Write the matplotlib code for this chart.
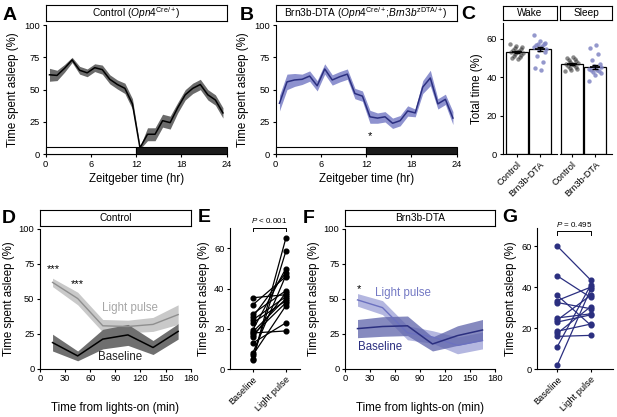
import numpy as np
import matplotlib
matplotlib.use('Agg')
import matplotlib.pyplot as plt
from matplotlib.patches import Rectangle

plt.rcParams['font.family'] = ['Liberation Sans', 'DejaVu Sans']
plt.rcParams['mathtext.fontset'] = 'custom'
plt.rcParams['mathtext.rm'] = 'Liberation Sans'
plt.rcParams['mathtext.it'] = 'Liberation Sans:italic'
plt.rcParams['axes.linewidth'] = 0.8
plt.rcParams['xtick.major.size'] = 2.5
plt.rcParams['ytick.major.size'] = 2.5
plt.rcParams['xtick.major.width'] = 0.8
plt.rcParams['ytick.major.width'] = 0.8
plt.rcParams['xtick.labelsize'] = 6.7
plt.rcParams['ytick.labelsize'] = 6.7
plt.rcParams['xtick.major.pad'] = 1.5
plt.rcParams['ytick.major.pad'] = 1.5

# ---------------- data ----------------
zt = np.arange(0.5, 24, 1.0)
ctrl_mean = [61.5, 61, 66.5, 73, 65, 63, 67, 65.5, 58, 54, 51, 39,
             5, 15.5, 15.5, 26, 24.5, 36, 46, 51, 54, 46, 42, 32]
ctrl_sem = [5, 4, 3, 2, 3, 3, 3, 3.5, 3.5, 3.5, 4, 4,
            1, 5, 5, 5, 5, 4, 4, 4, 4, 4, 4, 4]
dta_mean = [39.5, 56, 57.5, 58, 60.5, 53, 66, 57.5, 60, 62, 47, 45,
            29, 28, 29, 24, 26, 33.5, 32, 52, 59, 39, 42.5, 28]
dta_sem = [6, 6, 5, 4, 4, 4, 4, 4, 4, 4, 4, 4,
           5, 4, 4, 4, 4, 4, 3, 5, 6, 4, 4, 5]
lights_off = 12

c_groups = ['Control', 'Brn3b-DTA']
wake_ctrl = [57, 56, 55.5, 55, 54.5, 54, 53.5, 53, 53, 52.5, 52, 51.5, 51, 50.5, 50, 49.5]
wake_dta = [62, 59, 58, 57.5, 57, 56.5, 56, 55.5, 55, 54.5, 54, 53, 51, 48, 45, 43.5]
wake_mean = [53.2, 54.6]
wake_sem = [0.6, 1.2]
sleep_ctrl = [100 - v for v in wake_ctrl]
sleep_dta = [100 - v for v in wake_dta]
sleep_mean = [46.9, 45.4]
sleep_sem = [0.6, 1.2]

t_min = [15, 45, 75, 105, 135, 165]
d_lp = [61.5, 50, 30.5, 30, 31.5, 38.5]
d_lp_sem = [3, 4.5, 4.5, 4.5, 5, 7]
d_base = [18.5, 9, 21, 24, 15, 26.5]
d_base_sem = [6, 3.5, 7, 7.5, 5, 5.5]

f_lp = [49, 43.5, 25.5, 22.5, 16.5, 20]
f_lp_sem = [4.5, 5, 5, 4.5, 6, 6]
f_base = [28.5, 30, 30.5, 17.5, 23.5, 27.5]
f_base_sem = [6.5, 7, 7, 5, 7, 7.5]

pair_labels = ['Baseline', 'Light pulse']
e_base = [35.5, 32, 27.5, 26, 24.5, 23, 19.5, 18.5, 18, 17, 16, 13, 8, 7, 5, 4.5]
e_lp = [37, 46, 39, 48, 36, 34, 50, 35, 19, 33, 38, 23, 46.5, 31.5, 58.5, 65]
g_base = [60, 45.5, 36, 33.5, 32.5, 25, 24, 23, 18.5, 17.5, 16, 11, 2]
g_lp = [43.5, 35, 21.5, 40, 29.5, 27, 36, 26.5, 22, 30.5, 16.5, 41, 39]

NAVY = '#2b2f80'
LAV = '#8e92cf'

W, H = 617, 417
fig = plt.figure(figsize=(W / 100, H / 100), dpi=100)


def add_ax(l, t, r, b):
    return fig.add_axes([l / W, 1 - b / H, (r - l) / W, (b - t) / H])


def style(ax):
    ax.spines['top'].set_visible(False)
    ax.spines['right'].set_visible(False)


def title_box(l, t, r, b, text):
    ax = add_ax(l, t, r, b)
    ax.set_xticks([])
    ax.set_yticks([])
    ax.text(0.5, 0.47, text, ha='center', va='center', fontsize=7.3,
            transform=ax.transAxes)
    return ax


def letter(x, y, s):
    fig.text(x / W, 1 - y / H, s, fontsize=14, fontweight='bold', va='baseline')


LABFS = 8.3

# ---------------- A & B ----------------
for (l, r, mean, sem, lc, bc, ttl, let, lx) in [
        (45.7, 226.7, ctrl_mean, ctrl_sem, 'black', '#6b6b6b',
         r'Control ($\mathit{Opn4}^{\mathrm{Cre/+}}$)', 'A', 2.5),
        (275.7, 456.7, dta_mean, dta_sem, NAVY, LAV,
         r'Brn3b-DTA ($\mathit{Opn4}^{\mathrm{Cre/+}}$;$\mathit{Brn3b}^{\mathrm{zDTA/+}}$)', 'B', 240)]:
    ax = add_ax(l, 25, r, 154.3)
    style(ax)
    m = np.array(mean); s = np.array(sem)
    ax.fill_between(zt, m - s, m + s, color=bc, lw=0)
    ax.plot(zt, m, color=lc, lw=1.1)
    ax.add_patch(Rectangle((0, 0), lights_off, 5.3, fc='white', ec='black', lw=0.8, clip_on=False, zorder=3))
    ax.add_patch(Rectangle((lights_off, 0), 24 - lights_off, 5.3, fc='#1c1c1c', ec='black', lw=0.8, clip_on=False, zorder=3))
    ax.set_xlim(0, 24)
    ax.set_ylim(0, 100)
    ax.set_xticks([0, 6, 12, 18, 24])
    ax.set_yticks([0, 25, 50, 75, 100])
    ax.set_xlabel('Zeitgeber time (hr)', fontsize=LABFS, labelpad=3)
    ax.set_ylabel('Time spent asleep (%)', fontsize=LABFS, labelpad=4)
    title_box(l, 5, r, 20.7, ttl)
    letter(lx, 20, let)
    if let == 'B':
        ax.text(12.5, 14, '*', ha='center', va='center', fontsize=8)

# ---------------- C ----------------
letter(461.5, 19.3, 'C')


def jitter(n, w=0.55):
    k = (np.arange(n) * 7) % n
    return (k / max(n - 1, 1) - 0.5) * w


for (l, r, xl, means, sems, dots, ttl, first) in [
        (502.7, 556.7, (-0.6, 1.72), wake_mean, wake_sem, (wake_ctrl, wake_dta), 'Wake', True),
        (560.0, 612.3, (-0.5, 1.74), sleep_mean, sleep_sem, (sleep_ctrl, sleep_dta), 'Sleep', False)]:
    ax = add_ax(l, 23.3, r, 154.3)
    style(ax)
    xs = np.arange(len(c_groups))
    ax.bar(xs, means, width=0.94, fc='white', ec='black', lw=0.9, zorder=1)
    for i, (vals, col, a) in enumerate(zip(dots, ['#2a2a2a', '#8286c4'], [0.55, 0.85])):
        ax.scatter(xs[i] + jitter(len(vals)), vals, s=10, color=col, alpha=a, lw=0, zorder=2)
    ax.errorbar(xs, means, yerr=sems, fmt='none', ecolor='black', elinewidth=1.0, capsize=2.5, capthick=1.0, zorder=3)
    ax.hlines(means, xs - 0.22, xs + 0.22, color='black', lw=1.2, zorder=3)
    ax.set_xlim(*xl)
    ax.set_ylim(0, 68)
    ax.set_xticks(xs)
    ax.set_xticklabels(c_groups, rotation=45, ha='right', rotation_mode='anchor')
    if first:
        ax.set_yticks([0, 20, 40, 60])
        ax.set_ylabel('Total time (%)', fontsize=LABFS, labelpad=3)
    else:
        ax.spines['left'].set_visible(False)
        ax.set_yticks([])
    title_box(l, 5.7, r, 20, ttl)

# ---------------- D & F ----------------
for (l, r, lp, lps, bs, bss, lpc, lplc, bsc, bslc, ttl, let, lx, a_band) in [
        (40, 190.7, d_lp, d_lp_sem, d_base, d_base_sem, '#c9c9c9', '#8f8f8f', '#6f6f6f', 'black', 'Control', 'D', 1.5, 1.0),
        (345, 495, f_lp, f_lp_sem, f_base, f_base_sem, '#b4b7e0', '#6c71c0', '#5e63aa', NAVY, 'Brn3b-DTA', 'F', 303, 0.75)]:
    ax = add_ax(l, 228.5, r, 368.5)
    style(ax)
    t = np.array(t_min)
    a = np.array(lp); sa = np.array(lps)
    b = np.array(bs); sb = np.array(bss)
    ax.fill_between(t, a - sa, a + sa, color=lpc, lw=0, zorder=1)
    ax.fill_between(t, b - sb, b + sb, color=bsc, lw=0, alpha=a_band, zorder=2)
    ax.plot(t, a, color=lplc, lw=1.0, zorder=3)
    ax.plot(t, b, color=bslc, lw=1.1, zorder=4)
    ax.set_xlim(0, 180)
    ax.set_ylim(0, 100)
    ax.set_xticks([0, 30, 60, 90, 120, 150, 180])
    ax.set_yticks([0, 25, 50, 75, 100])
    ax.set_xlabel('Time from lights-on (min)', fontsize=LABFS, labelpad=14)
    ax.set_ylabel('Time spent asleep (%)', fontsize=LABFS, labelpad=2.5)
    title_box(l, 210, r, 225.5, ttl)
    letter(lx, 223, let)
    if let == 'D':
        ax.text(16, 71, '***', ha='center', va='center', fontsize=8)
        ax.text(45, 60, '***', ha='center', va='center', fontsize=8)
        ax.text(107, 43.5, 'Light pulse', ha='center', va='center', fontsize=8.3, color='#a6a6a6')
        ax.text(96, 8.5, 'Baseline', ha='center', va='center', fontsize=8.3, color='#222222')
    else:
        ax.text(17, 57, '*', ha='center', va='center', fontsize=8)
        ax.text(70, 54, 'Light pulse', ha='center', va='center', fontsize=8.3, color='#7479c4')
        ax.text(42, 15.5, 'Baseline', ha='center', va='center', fontsize=8.3, color=NAVY)

# ---------------- E & G ----------------
for (l, r, t_, yl, xl, base, lp, col, ptxt, let, lx) in [
        (230, 300, 228.3, 70, (-0.69, 1.43), e_base, e_lp, 'black', r'$\mathit{P}$ < 0.001', 'E', 198),
        (537.3, 613, 227.7, 69, (-0.6, 1.67), g_base, g_lp, NAVY, r'$\mathit{P}$ = 0.495', 'G', 502)]:
    ax = add_ax(l, t_, r, 369.2)
    style(ax)
    for b0, l0 in zip(base, lp):
        ax.plot([0, 1], [b0, l0], color=col, lw=0.9, marker='o', ms=3.4, zorder=2)
    ax.set_xlim(*xl)
    ax.set_ylim(0, yl)
    ax.set_yticks([0, 20, 40, 60])
    ax.set_xticks([0, 1])
    ax.set_xticklabels(pair_labels, rotation=45, ha='right', rotation_mode='anchor')
    ax.set_ylabel('Time spent asleep (%)', fontsize=LABFS, labelpad=3)
    ytop = yl * 1.005 if let == 'E' else yl * 0.975
    ax.plot([0, 0, 1, 1], [ytop - 1.6, ytop, ytop, ytop - 1.6], color='black', lw=0.7, clip_on=False)
    ax.text(0.5, ytop + 1.2, ptxt, ha='center', va='bottom', fontsize=5.8)
    letter(lx, 222, let)

fig.savefig('out.png', dpi=100)
